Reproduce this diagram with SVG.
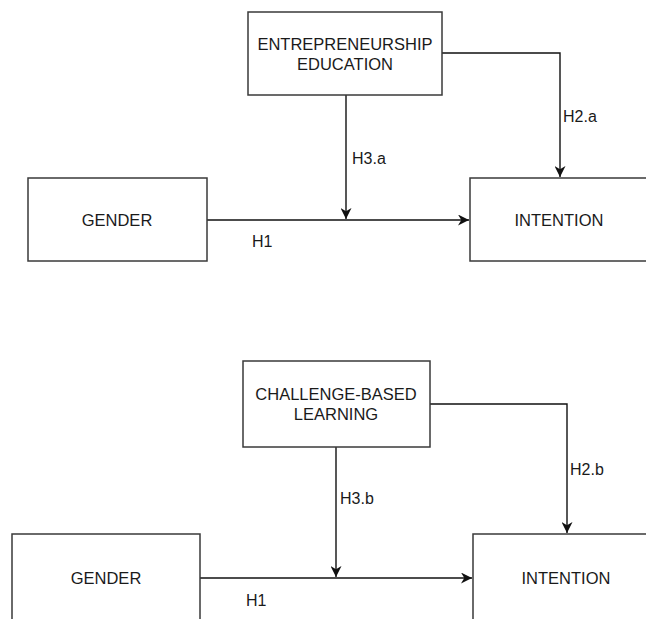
<svg xmlns="http://www.w3.org/2000/svg" width="646" height="619" viewBox="0 0 646 619">
<style>
.box{fill:#fff;stroke:#3a3a3a;stroke-width:1.5}
.t{font-family:"Liberation Sans",Arial,sans-serif;font-size:16.5px;fill:#1a1a1a;text-anchor:middle;dominant-baseline:central}
.l{font-family:"Liberation Sans",Arial,sans-serif;font-size:16px;fill:#1a1a1a;dominant-baseline:central}
.c{fill:none;stroke:#111;stroke-width:1.4}
</style>
<defs>
<marker id="a" viewBox="0 0 10 10" refX="10" refY="5" markerWidth="11" markerHeight="11" markerUnits="userSpaceOnUse" orient="auto">
<path d="M0,0 L10,5 L0,10 L3,5 Z" fill="#111"/>
</marker>
</defs>
<rect width="646" height="619" fill="#fff"/>
<g id="connectors">
<path class="c" d="M346,95 V219" marker-end="url(#a)"/>
<path class="c" d="M207,220 H469" marker-end="url(#a)"/>
<path class="c" d="M442,53 H560 V177" marker-end="url(#a)"/>
<path class="c" d="M336,447 V577" marker-end="url(#a)"/>
<path class="c" d="M200,578 H472" marker-end="url(#a)"/>
<path class="c" d="M430,404 H567 V533" marker-end="url(#a)"/>
</g>
<g id="labels">
<text class="l" x="352" y="158">H3.a</text>
<text class="l" x="563" y="116">H2.a</text>
<text class="l" x="252" y="241">H1</text>
<text class="l" x="340" y="498">H3.b</text>
<text class="l" x="570" y="469">H2.b</text>
<text class="l" x="246" y="600">H1</text>
</g>
<g id="ee"><rect class="box" x="248" y="12" width="194" height="83"/><text class="t" x="345" y="44">ENTREPRENEURSHIP</text><text class="t" x="345" y="64">EDUCATION</text></g>
<g id="gender1"><rect class="box" x="28" y="178" width="179" height="83"/><text class="t" x="117" y="220">GENDER</text></g>
<g id="intention1"><rect class="box" x="470" y="178" width="178" height="83"/><text class="t" x="559" y="220">INTENTION</text></g>
<g id="cbl"><rect class="box" x="243" y="361" width="187" height="86"/><text class="t" x="336" y="394">CHALLENGE-BASED</text><text class="t" x="336" y="414">LEARNING</text></g>
<g id="gender2"><rect class="box" x="12" y="534" width="188" height="90"/><text class="t" x="106" y="578">GENDER</text></g>
<g id="intention2"><rect class="box" x="473" y="534" width="178" height="90"/><text class="t" x="566" y="578">INTENTION</text></g>
</svg>
